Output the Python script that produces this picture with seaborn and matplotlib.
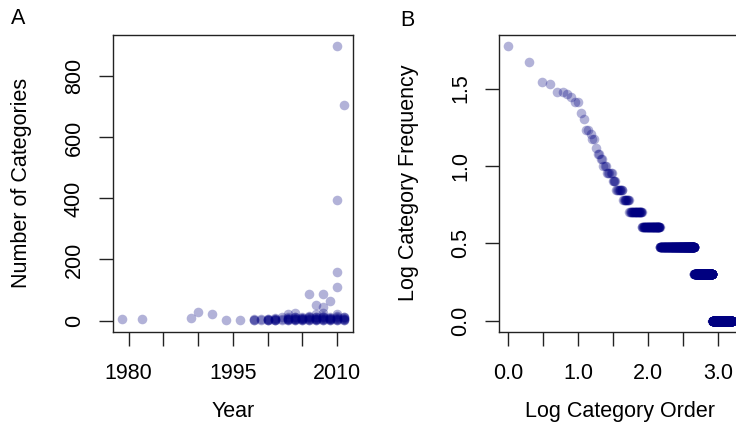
import numpy as np
import pandas as pd
import matplotlib
matplotlib.use("Agg")
import matplotlib.pyplot as plt
import seaborn as sns

# --- Panel A: number of categories per classification, by year ---
year_a = ([1979, 1982, 1989, 1990, 1992, 1994, 1996]
          + [1998] * 3 + [1999] * 2 + [2000] * 5 + [2001] * 6 + [2002] * 3
          + [2003] * 8 + [2004] * 9 + [2005] * 8 + [2006] * 9 + [2007] * 10
          + [2008] * 11 + [2009] * 9 + [2010] * 12 + [2011] * 8)
ncat_a = ([5, 6, 7, 27, 20, 3, 1]
          + [2, 4, 3]
          + [5, 2]
          + [1, 3, 6, 2, 4]
          + [2, 8, 4, 3, 5, 1]
          + [6, 10, 3]
          + [20, 4, 8, 2, 12, 5, 6, 3]
          + [24, 3, 5, 8, 10, 2, 6, 12, 4]
          + [4, 12, 7, 3, 9, 6, 5, 2]
          + [87, 15, 6, 3, 10, 4, 8, 2, 12]
          + [52, 20, 8, 5, 12, 3, 6, 4, 10, 2]
          + [87, 44, 25, 10, 6, 3, 15, 8, 5, 2, 12]
          + [63, 12, 6, 4, 9, 3, 7, 5, 2]
          + [901, 396, 158, 111, 20, 10, 5, 3, 8, 6, 15, 2]
          + [707, 8, 4, 12, 6, 3, 10, 2])

# --- Panel B: rank-frequency of categories ---
top_freqs = [60, 47, 35, 34, 30, 30, 29, 28, 26, 26, 22, 20,
             17, 17, 16, 15, 15, 13, 12, 12, 11, 11]
freq_levels = [10, 9, 8, 7, 6, 5, 4, 3, 2, 1]
freq_level_counts = [3, 5, 4, 9, 10, 28, 65, 310, 375, 754]

df_a = pd.DataFrame({'year': year_a, 'ncat': ncat_a})

freqs = np.concatenate([top_freqs, np.repeat(freq_levels, freq_level_counts)])
ranks = np.arange(1, len(freqs) + 1)
df_b = pd.DataFrame({'log_order': np.log10(ranks), 'log_freq': np.log10(freqs)})

sns.set_style("ticks")
plt.rcParams['font.family'] = ['Liberation Sans', 'DejaVu Sans']
plt.rcParams['text.color'] = 'black'
plt.rcParams['axes.labelcolor'] = 'black'
FS = 15.5

fig = plt.figure(figsize=(7.36, 4.25), dpi=100)
ax_a = fig.add_axes([0.1531, 0.2200, 0.3265, 0.6985])
ax_b = fig.add_axes([0.6784, 0.2200, 0.3284, 0.6985])

sns.scatterplot(data=df_a, x='year', y='ncat', ax=ax_a, color='navy',
                alpha=0.3, s=48, linewidth=0, legend=False)
sns.scatterplot(data=df_b, x='log_order', y='log_freq', ax=ax_b, color='navy',
                alpha=0.3, s=48, linewidth=0, legend=False)

ax_a.set_xlim(1977.72, 2012.28)
ax_a.set_ylim(-36, 937)
ax_a.set_xticks(np.arange(1980, 2011, 5))
ax_a.set_xticklabels(['1980', '', '', '1995', '', '', '2010'])
ax_a.set_yticks([0, 200, 400, 600, 800])
ax_a.set_yticklabels(['0', '200', '400', '600', '800'])

ax_b.set_xlim(-0.128, 3.328)
ax_b.set_ylim(-0.0711, 1.849)
ax_b.set_xticks(np.arange(0, 3.01, 0.5))
ax_b.set_xticklabels(['0.0', '', '1.0', '', '2.0', '', '3.0'])
ax_b.set_yticks([0, 0.5, 1.0, 1.5])
ax_b.set_yticklabels(['0.0', '0.5', '1.0', '1.5'])

for ax, xl, yl in [(ax_a, 'Year', 'Number of Categories'),
                   (ax_b, 'Log Category Order', 'Log Category Frequency')]:
    for s in ax.spines.values():
        s.set_visible(True)
        s.set_color('#222222')
        s.set_linewidth(1.0)
    ax.tick_params(direction='out', length=10, width=1, color='#222222',
                   labelsize=FS, labelcolor='black')
    ax.tick_params(axis='x', pad=13)
    ax.tick_params(axis='y', pad=10, labelrotation=90)
    for lbl in ax.get_yticklabels():
        lbl.set_va('center')
    ax.set_xlabel(xl, fontsize=FS, labelpad=12)
    ax.set_ylabel(yl, fontsize=FS, labelpad=23)
    ax.grid(False)

fig.text(18.5 / 736, 1 - 18.5 / 425, 'A', fontsize=FS, ha='center', va='center')
fig.text(407.5 / 736, 1 - 21 / 425, 'B', fontsize=FS, ha='center', va='center')

fig.savefig('out.png', dpi=100)
